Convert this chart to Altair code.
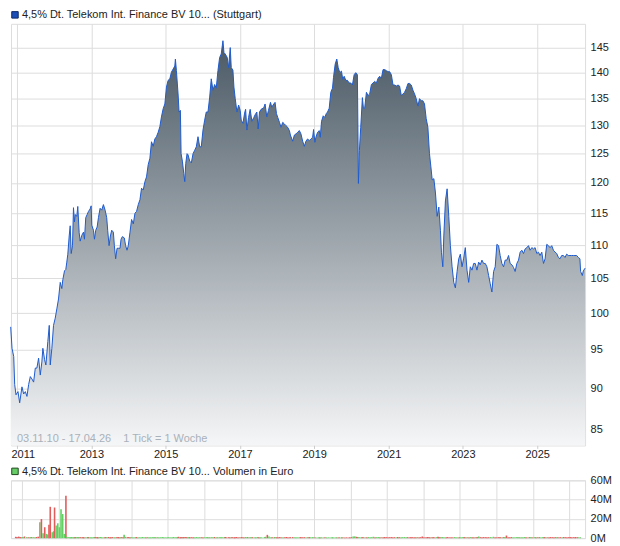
import altair as alt
import pandas as pd
import numpy as np

# ---- data (decimal year, price, volume in M EUR) ----
t_2011 = [2010.831, 2010.866, 2010.912, 2010.938, 2010.973, 2011.027, 2011.072, 2011.134, 2011.180, 2011.225,
          2011.268, 2011.314, 2011.359, 2011.402, 2011.448, 2011.493, 2011.536, 2011.582, 2011.627, 2011.670,
          2011.697, 2011.743, 2011.778, 2011.831, 2011.869, 2011.896, 2011.939, 2011.984]
p_2011 = [98.1, 95.2, 94.1, 90.5, 89.2, 89.6, 88.2, 90.2, 89.3, 89.6, 89.0, 90.5, 91.5, 91.2, 90.8, 92.6, 92.6,
          93.9, 91.7, 93.4, 95.2, 93.7, 93.0, 96.1, 98.3, 93.0, 95.2, 98.3]
v_2011 = [1.4, 1.2, 1.6, 1.0, 1.2, 1.1, 1.7, 1.0, 0.9, 1.3, 1.0, 1.0, 0.8, 1.2, 1.5, 16.4, 19.8, 5.0, 11.3, 4.4,
          3.8, 14.0, 32.5, 6.2, 7.2, 31.8, 13.0, 15.4]

t_2012 = [2012.030, 2012.073, 2012.118, 2012.164, 2012.207, 2012.234, 2012.279, 2012.314, 2012.341, 2012.368,
          2012.405, 2012.432, 2012.459, 2012.494, 2012.520, 2012.547, 2012.566, 2012.609, 2012.636, 2012.673,
          2012.700, 2012.743, 2012.789, 2012.815, 2012.850, 2012.888, 2012.923, 2012.968, 2012.995]
p_2012 = [99.3, 100.6, 102.0, 104.4, 103.5, 104.8, 106.1, 106.3, 107.4, 108.6, 111.4, 113.0, 108.7, 109.9, 115.9,
          113.6, 114.8, 114.5, 116.1, 111.9, 110.6, 111.5, 112.0, 110.9, 114.3, 114.8, 115.3, 115.7, 116.2]
v_2012 = [11.3, 30.0, 25.0, 4.4, 44.0, 1.4, 1.0, 0.8, 1.0, 1.2, 0.9, 1.0, 1.2, 0.9, 1.0, 0.8, 1.1, 1.0, 0.9,
          1.2, 1.0, 0.9, 1.0, 1.3, 0.9, 1.0, 0.8, 1.0, 1.1]

t_2013 = [2013.011, 2013.057, 2013.084, 2013.118, 2013.156, 2013.191, 2013.236, 2013.279, 2013.325, 2013.371,
          2013.414, 2013.440, 2013.478, 2013.513, 2013.548, 2013.593, 2013.620, 2013.655, 2013.692, 2013.727,
          2013.773, 2013.800, 2013.835, 2013.888, 2013.923, 2013.961, 2013.995]
p_2013 = [113.1, 112.3, 110.9, 112.3, 112.8, 114.3, 115.8, 115.5, 116.4, 115.5, 114.3, 112.3, 109.9, 111.4, 112.3,
          112.0, 109.9, 107.9, 109.5, 109.5, 109.5, 110.9, 111.3, 111.1, 109.9, 109.2, 109.9]
v_2013 = [1.0, 1.1, 0.9, 1.0, 1.2, 1.0, 0.8, 1.1, 1.0, 1.2, 0.9, 1.0, 1.1, 0.8, 1.0, 0.9, 1.0, 1.1, 0.8, 1.0,
          1.1, 3.4, 1.3, 1.0, 1.1, 0.8, 1.0]

t_2014 = [2014.041, 2014.084, 2014.130, 2014.175, 2014.218, 2014.264, 2014.309, 2014.352, 2014.398, 2014.443,
          2014.486, 2014.532, 2014.577, 2014.620, 2014.666, 2014.711, 2014.754, 2014.800, 2014.845, 2014.888,
          2014.934, 2014.980]
p_2014 = [112.0, 114.0, 113.3, 115.0, 115.3, 116.4, 117.2, 119.1, 118.8, 120.2, 121.0, 123.1, 124.2, 127.1, 126.3,
          127.6, 128.0, 128.8, 129.8, 131.6, 133.1, 134.0]
v_2014 = [1.0, 0.8, 1.1, 1.0, 0.9, 1.0, 1.2, 0.8, 1.0, 1.1, 1.0, 0.9, 1.0, 1.2, 0.8, 1.0, 1.0, 0.9, 1.1, 1.0,
          0.8, 1.0]

t_2015 = [2015.023, 2015.068, 2015.114, 2015.157, 2015.202, 2015.248, 2015.264, 2015.291, 2015.336, 2015.363,
          2015.398, 2015.417, 2015.452, 2015.489, 2015.516, 2015.543, 2015.578, 2015.604, 2015.650, 2015.693,
          2015.739, 2015.784, 2015.827, 2015.873, 2015.918, 2015.961]
p_2015 = [137.2, 138.5, 138.8, 140.1, 140.7, 141.3, 142.7, 140.4, 135.9, 132.5, 132.8, 125.0, 123.7, 121.6, 120.2,
          123.3, 125.0, 124.8, 123.7, 123.4, 125.0, 125.6, 126.2, 128.0, 126.2, 126.2]
v_2015 = [1.0, 0.8, 1.0, 1.2, 0.9, 1.0, 1.1, 1.4, 1.0, 1.2, 0.8, 1.3, 1.0, 1.1, 0.9, 1.0, 1.2, 0.8, 1.0, 0.9,
          1.0, 1.1, 0.8, 1.0, 0.9, 1.0]

t_2016 = [2016.007, 2016.052, 2016.095, 2016.141, 2016.187, 2016.229, 2016.275, 2016.320, 2016.363, 2016.409,
          2016.454, 2016.497, 2016.543, 2016.570, 2016.605, 2016.658, 2016.696, 2016.739, 2016.766, 2016.811,
          2016.838, 2016.873, 2016.919, 2016.964]
p_2016 = [129.2, 131.0, 132.5, 132.5, 135.3, 138.8, 136.6, 137.7, 137.0, 140.4, 143.0, 143.7, 146.4, 144.0, 143.7,
          143.0, 141.0, 145.0, 141.0, 140.5, 137.2, 135.0, 132.5, 133.8]
v_2016 = [0.9, 1.0, 1.1, 0.8, 1.0, 0.9, 1.2, 1.0, 0.8, 1.0, 1.1, 0.9, 1.0, 1.2, 0.8, 1.0, 0.9, 1.1, 1.0, 0.8,
          1.0, 1.2, 0.9, 1.0]

t_2017 = [2017.007, 2017.034, 2017.080, 2017.125, 2017.152, 2017.187, 2017.232, 2017.275, 2017.321, 2017.374,
          2017.409, 2017.455, 2017.490, 2017.527, 2017.570, 2017.642, 2017.677, 2017.723, 2017.768, 2017.822,
          2017.857, 2017.911, 2017.946, 2017.983]
p_2017 = [132.8, 131.0, 130.4, 132.3, 133.0, 129.2, 131.5, 133.0, 130.8, 131.5, 132.0, 132.5, 129.4, 132.5, 133.0,
          133.3, 134.0, 131.6, 132.8, 134.3, 133.4, 134.0, 134.3, 132.2]
v_2017 = [1.0, 0.9, 1.0, 1.2, 0.8, 1.0, 0.9, 1.1, 1.0, 0.8, 1.0, 1.2, 0.9, 1.0, 0.8, 1.1, 1.4, 3.4, 1.6, 1.0,
          0.9, 1.1, 1.0, 0.8]

t_2018 = [2018.018, 2018.064, 2018.106, 2018.152, 2018.198, 2018.240, 2018.286, 2018.332, 2018.358, 2018.420,
          2018.466, 2018.509, 2018.554, 2018.600, 2018.643, 2018.689, 2018.734, 2018.777, 2018.822, 2018.868,
          2018.911, 2018.957, 2018.983]
p_2018 = [131.5, 130.6, 129.7, 130.6, 130.3, 130.0, 129.7, 129.1, 128.3, 127.2, 128.3, 128.5, 128.8, 129.1, 128.5,
          127.2, 126.3, 127.2, 127.6, 127.3, 127.6, 127.9, 129.3]
v_2018 = [1.0, 1.1, 0.8, 1.0, 0.9, 1.2, 1.0, 0.8, 1.0, 1.1, 0.9, 1.0, 0.8, 1.0, 1.2, 0.9, 1.0, 0.8, 1.0, 1.1,
          0.9, 1.0, 0.8]

t_2019 = [2019.018, 2019.045, 2019.091, 2019.136, 2019.163, 2019.198, 2019.243, 2019.286, 2019.324, 2019.359,
          2019.404, 2019.447, 2019.493, 2019.520, 2019.565, 2019.608, 2019.646, 2019.689, 2019.734, 2019.769,
          2019.807, 2019.850, 2019.895, 2019.941, 2019.984]
p_2019 = [127.0, 127.9, 128.8, 129.1, 127.9, 130.8, 131.8, 131.5, 132.2, 132.5, 133.2, 136.2, 137.0, 139.1, 141.7,
          142.7, 141.0, 140.0, 140.3, 138.7, 139.3, 138.5, 138.5, 138.0, 138.0]
v_2019 = [0.6, 0.8, 0.6, 0.9, 0.6, 0.8, 0.6, 0.8, 0.9, 0.6, 0.8, 0.6, 0.8, 0.9, 0.6, 0.8, 0.6, 0.8, 0.6, 0.9,
          0.8, 0.6, 0.8, 0.6, 0.8]

t_2020 = [2020.029, 2020.075, 2020.118, 2020.163, 2020.190, 2020.217, 2020.252, 2020.297, 2020.324, 2020.359,
          2020.405, 2020.450, 2020.493, 2020.539, 2020.584, 2020.627, 2020.673, 2020.718, 2020.761, 2020.807,
          2020.852, 2020.895, 2020.941, 2020.986]
p_2020 = [137.6, 139.6, 140.0, 139.6, 119.9, 125.6, 129.7, 135.2, 133.2, 133.2, 136.2, 135.6, 135.9, 137.7, 138.0,
          138.3, 138.0, 138.9, 139.3, 138.9, 140.6, 140.6, 140.4, 140.2]
v_2020 = [1.0, 1.6, 1.8, 1.4, 1.2, 1.0, 0.9, 0.8, 1.0, 0.9, 0.8, 1.0, 1.1, 0.8, 1.0, 1.4, 0.8, 1.0, 1.1, 0.8,
          1.0, 0.8, 1.1, 1.0]

t_2021 = [2021.029, 2021.075, 2021.120, 2021.163, 2021.209, 2021.255, 2021.297, 2021.343, 2021.388, 2021.431,
          2021.477, 2021.523, 2021.566, 2021.611, 2021.657, 2021.700, 2021.745, 2021.791, 2021.834, 2021.880,
          2021.925, 2021.968]
p_2021 = [140.2, 139.6, 137.6, 137.6, 137.4, 137.6, 137.4, 135.6, 135.9, 136.2, 136.9, 137.9, 137.9, 137.6, 136.6,
          135.9, 135.0, 133.6, 135.0, 134.6, 134.6, 134.0]
v_2021 = [0.8, 1.0, 1.1, 0.8, 1.0, 0.8, 1.1, 1.0, 0.8, 1.0, 1.1, 0.8, 1.0, 0.8, 1.1, 1.0, 0.8, 1.0, 1.1, 0.8,
          1.0, 1.7]

t_2022 = [2022.013, 2022.059, 2022.102, 2022.140, 2022.175, 2022.220, 2022.263, 2022.309, 2022.354, 2022.397,
          2022.424, 2022.461, 2022.488, 2022.531, 2022.577, 2022.622, 2022.665, 2022.711, 2022.756, 2022.799,
          2022.845, 2022.890, 2022.933, 2022.979]
p_2022 = [131.3, 129.7, 125.0, 122.7, 120.5, 120.7, 118.3, 114.5, 116.0, 112.3, 108.9, 106.7, 111.4, 117.0, 119.0,
          114.5, 109.9, 106.7, 104.4, 103.6, 106.0, 107.9, 108.6, 106.7]
v_2022 = [1.0, 0.8, 1.1, 1.0, 0.8, 1.0, 1.1, 0.8, 1.0, 1.4, 1.1, 0.8, 1.0, 1.1, 0.8, 1.0, 1.1, 0.8, 1.0, 0.8,
          1.1, 1.0, 0.8, 1.0]

t_2023 = [2023.024, 2023.067, 2023.113, 2023.158, 2023.201, 2023.247, 2023.292, 2023.335, 2023.381, 2023.426,
          2023.469, 2023.515, 2023.560, 2023.604, 2023.649, 2023.695, 2023.738, 2023.783, 2023.829, 2023.872,
          2023.917, 2023.963]
p_2023 = [108.0, 109.6, 106.2, 104.4, 106.7, 106.2, 107.2, 107.2, 106.2, 107.4, 107.0, 107.7, 107.2, 107.2, 106.7,
          105.4, 104.2, 103.0, 106.0, 106.7, 110.1, 109.9]
v_2023 = [0.8, 1.0, 1.1, 0.8, 1.0, 0.8, 1.1, 1.0, 0.8, 1.0, 1.1, 1.7, 1.0, 0.8, 1.1, 1.0, 0.8, 1.0, 1.1, 0.8,
          1.4, 1.0]

t_2024 = [2024.006, 2024.051, 2024.097, 2024.140, 2024.186, 2024.231, 2024.274, 2024.320, 2024.365, 2024.408,
          2024.454, 2024.499, 2024.542, 2024.588, 2024.633, 2024.676, 2024.722, 2024.767, 2024.810, 2024.856,
          2024.901, 2024.944, 2024.990]
p_2024 = [108.4, 107.2, 106.7, 107.7, 107.7, 108.4, 107.2, 107.0, 106.6, 106.0, 107.2, 107.7, 108.9, 109.2, 108.7,
          109.4, 109.6, 109.9, 109.2, 109.6, 109.4, 109.6, 108.7]
v_2024 = [0.8, 1.0, 1.1, 0.8, 1.0, 1.1, 2.7, 1.0, 0.8, 1.1, 1.0, 0.8, 1.0, 1.1, 0.8, 1.0, 0.8, 1.1, 1.0, 0.8,
          1.0, 1.1, 0.8]

t_2025 = [2025.035, 2025.078, 2025.124, 2025.170, 2025.213, 2025.258, 2025.304, 2025.347, 2025.392, 2025.438,
          2025.481, 2025.526, 2025.572, 2025.615, 2025.661, 2025.706, 2025.749, 2025.794, 2025.840, 2025.883,
          2025.929, 2025.974, 2026.017, 2026.063, 2026.108, 2026.151, 2026.170, 2026.216, 2026.243, 2026.292]
p_2025 = [108.9, 108.4, 108.9, 107.2, 107.9, 110.1, 109.9, 109.6, 109.9, 109.2, 108.9, 108.7, 108.1, 107.9, 108.4,
          108.4, 108.1, 108.6, 108.4, 108.4, 108.4, 108.4, 108.4, 108.4, 108.1, 107.9, 106.0, 105.4, 106.1, 106.5]
v_2025 = [1.0, 0.8, 1.1, 1.0, 0.8, 1.0, 1.1, 0.8, 1.0, 0.8, 1.1, 1.0, 0.8, 1.0, 1.1, 0.8, 1.0, 0.8, 1.1, 1.0,
          0.8, 1.0, 1.1, 0.8, 1.0, 0.8, 1.1, 1.0, 0.8, 1.0]

y_ticks = [85, 90, 95, 100, 105, 110, 115, 120, 125, 130, 135, 140, 145]
vol_ticks = [0, 20, 40, 60]
title_price = "4,5% Dt. Telekom Int. Finance BV 10... (Stuttgart)"
title_volume = "4,5% Dt. Telekom Int. Finance BV 10... Volumen in Euro"
caption = "03.11.10 - 17.04.26\u00a0\u00a0\u00a0 1 Tick = 1 Woche"

years = t_2011 + t_2012 + t_2013 + t_2014 + t_2015 + t_2016 + t_2017 + t_2018 + t_2019 + t_2020 + t_2021 + t_2022 + t_2023 + t_2024 + t_2025
prices = p_2011 + p_2012 + p_2013 + p_2014 + p_2015 + p_2016 + p_2017 + p_2018 + p_2019 + p_2020 + p_2021 + p_2022 + p_2023 + p_2024 + p_2025
vols = v_2011 + v_2012 + v_2013 + v_2014 + v_2015 + v_2016 + v_2017 + v_2018 + v_2019 + v_2020 + v_2021 + v_2022 + v_2023 + v_2024 + v_2025
n = min(len(years), len(prices), len(vols))


def to_ts(t):
    y = int(t)
    a = pd.Timestamp(y, 1, 1)
    b = pd.Timestamp(y + 1, 1, 1)
    return (a + (b - a) * (t - y)).floor("h")


df = pd.DataFrame({
    "date": [to_ts(t) for t in years[:n]],
    "price": prices[:n],
    "vol": vols[:n],
})
df["dir"] = np.where(df["price"].diff() > 0, "up", "down")

FONT = "Liberation Sans"
GRID = "#dddddd"
W = 576
H_TOP = 423
H_VOL = 58

xscale = alt.Scale(domain=[alt.DateTime(year=2010, month=11, date=3),
                           alt.DateTime(year=2026, month=4, date=17)])
year_ticks = [alt.DateTime(year=y, month=1, date=1) for y in range(2011, 2027)]

x_axis_top = alt.Axis(values=year_ticks, title=None, grid=True, gridColor=GRID, domain=False,
                      tickSize=3, tickColor="#cccccc", labelPadding=0, labelFontSize=11,
                      labelColor="#222222", labelFont=FONT, labelOverlap=False,
                      labelFlush=10, labelFlushOffset=6,
                      labelExpr="year(datum.value) % 2 == 1 ? timeFormat(datum.value, '%Y') : ''")
y_axis_top = alt.Axis(orient="right", values=y_ticks, title=None, grid=True, gridColor=GRID,
                      domain=False, ticks=False, tickSize=0, labelPadding=5, labelFontSize=11,
                      labelColor="#222222", labelFont=FONT)
yscale = alt.Scale(type="log", domain=[83.1, 149.9], nice=False)

gradient = alt.Gradient(gradient="linear",
                        stops=[alt.GradientStop(color="#f5f6f7", offset=0),
                               alt.GradientStop(color="#4a5965", offset=1)],
                        x1=1, x2=1, y1=1, y2=0)

base = alt.Chart(df)
area = base.mark_area(color=gradient).encode(
    x=alt.X("date:T", scale=xscale, axis=x_axis_top),
    y=alt.Y("price:Q", scale=yscale, axis=y_axis_top),
    y2=alt.datum(83.1),
)
line = base.mark_line(color="#1f5bcc", strokeWidth=1).encode(
    x="date:T", y="price:Q"
)

cap = alt.Chart(pd.DataFrame({"t": [caption]})).mark_text(
    align="left", baseline="alphabetic", fontSize=11, font=FONT, color="#a9b1ba"
).encode(text="t:N", x=alt.value(6), y=alt.value(H_TOP - 3))

head1_sq = alt.Chart(pd.DataFrame({"k": [1]})).mark_square(
    size=42, filled=True, fill="#1d4fb8", stroke="#0e2a66", strokeWidth=1, opacity=1
).encode(x=alt.value(4), y=alt.value(-9))
head1_tx = alt.Chart(pd.DataFrame({"t": [title_price]})).mark_text(
    align="left", baseline="middle", fontSize=11, font=FONT, color="#222222"
).encode(text="t:N", x=alt.value(11), y=alt.value(-8.5))

top = alt.layer(area, line, cap, head1_sq, head1_tx).properties(width=W, height=H_TOP)

vol_bars = base.mark_bar(size=1.6).encode(
    x=alt.X("date:T", scale=xscale,
            axis=alt.Axis(values=year_ticks, labels=False, ticks=False, domain=False, grid=True,
                          gridColor=GRID, title=None)),
    y=alt.Y("vol:Q", scale=alt.Scale(domain=[0, 60], nice=False),
            axis=alt.Axis(orient="right", values=vol_ticks, title=None, grid=True, gridColor=GRID,
                          domain=False, ticks=False, tickSize=0, labelPadding=5, labelFontSize=11,
                          labelColor="#222222", labelFont=FONT, labelExpr="datum.value + 'M'")),
    color=alt.Color("dir:N", scale=alt.Scale(domain=["up", "down"], range=["#62d062", "#e25c5c"]),
                    legend=None),
)
head2_sq = alt.Chart(pd.DataFrame({"k": [1]})).mark_square(
    size=42, filled=True, fill="#66cc66", stroke="#1e4a1e", strokeWidth=1, opacity=1
).encode(x=alt.value(4), y=alt.value(-9))
head2_tx = alt.Chart(pd.DataFrame({"t": [title_volume]})).mark_text(
    align="left", baseline="middle", fontSize=11, font=FONT, color="#222222"
).encode(text="t:N", x=alt.value(11), y=alt.value(-8.5))

bottom = alt.layer(vol_bars, head2_sq, head2_tx).properties(width=W, height=H_VOL)

chart = alt.vconcat(top, bottom, spacing=5).properties(
    padding=0, background="white"
).configure_view(stroke=GRID, strokeWidth=1).configure(font=FONT)

chart.save("out.html", embed_options={"renderer": "svg", "actions": False})
